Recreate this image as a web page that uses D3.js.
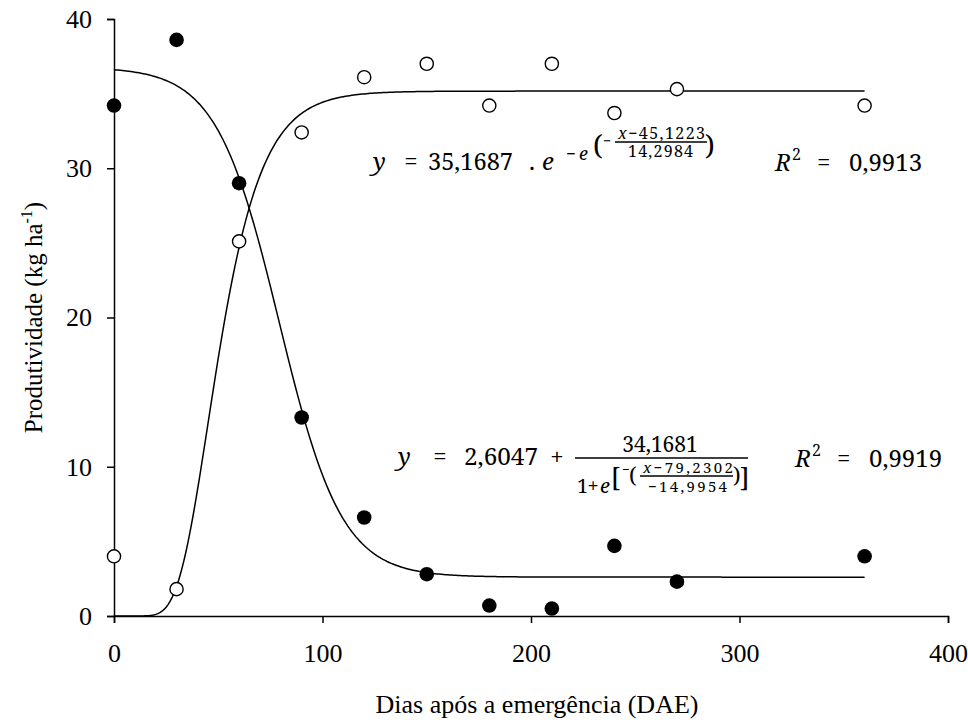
<!DOCTYPE html>
<html>
<head>
<meta charset="utf-8">
<script src="https://cdn.jsdelivr.net/npm/d3@7"></script>
<style>
  body { margin: 0; background: #fff; }
  svg { display: block; }
  .ts { font-family: "Liberation Serif"; fill: #000; }
  .mf { font-family: "Noto Serif"; fill: #000; }
  .it { font-style: italic; }
</style>
</head>
<body>
<svg id="chart" width="968" height="724"></svg>
<script>
// ---- data ----
const days = [0, 30, 60, 90, 120, 150, 180, 210, 240, 270, 360];
const filledValues = [34.2, 38.6, 29.0, 13.3, 6.6, 2.8, 0.7, 0.5, 4.7, 2.3, 4.0];
const openValues   = [4.0, 1.8, 25.1, 32.4, 36.1, 37.0, 34.2, 37.0, 33.7, 35.3, 34.2];
const xTicks = [0, 100, 200, 300, 400];
const yTicks = [0, 10, 20, 30, 40];
// fitted model coefficients printed on the chart
const gompertzCoef = [35.1687, 45.1223, 14.2984];          // a, x0, b
const logisticCoef = [2.6047, 34.1681, 79.2302, -14.9954]; // y0, a, x0, b
const curveX = d3.range(0, 360.5, 1);

const svg = d3.select("#chart");
const x = d3.scaleLinear().domain([0, 400]).range([114, 948]);
const y = d3.scaleLinear().domain([0, 40]).range([616, 19]);

// axes
const xAxis = svg.append("g").attr("transform", `translate(0,${y(0)})`)
  .call(d3.axisBottom(x).tickValues(xTicks).tickSize(7).tickPadding(21).tickFormat(d3.format("d")));
const yAxis = svg.append("g").attr("transform", `translate(${x(0)},0)`)
  .call(d3.axisLeft(y).tickValues(yTicks).tickSize(7).tickPadding(15).tickFormat(d3.format("d")));
[xAxis, yAxis].forEach(g => {
  g.attr("font-family", null).attr("font-size", null);
  g.select(".domain").attr("stroke", "#000").attr("stroke-width", 1.5);
  g.selectAll(".tick line").attr("stroke", "#000").attr("stroke-width", 1.5);
  g.selectAll(".tick text").attr("class", "ts").attr("font-size", 26);
});

// axis titles
svg.append("text").attr("class", "ts").attr("x", 537).attr("y", 713).attr("text-anchor", "middle")
  .attr("font-size", 26).text("Dias após a emergência (DAE)");
const yt = svg.append("text").attr("class", "ts").attr("transform", `translate(42,${y(20)}) rotate(-90)`)
  .attr("text-anchor", "middle").attr("font-size", 25);
yt.append("tspan").text("Produtividade (kg ha");
yt.append("tspan").attr("dy", -10).attr("font-size", 16).text("-1");
yt.append("tspan").attr("dy", 10).text(")");

// curves
const line = d3.line().x(d => x(d[0])).y(d => y(d[1]));
const gomp = curveX.map(v => [v, gompertzCoef[0] * Math.exp(-Math.exp(-(v - gompertzCoef[1]) / gompertzCoef[2]))]);
const logi = curveX.map(v => [v, logisticCoef[0] + logisticCoef[1] / (1 + Math.exp(-((v - logisticCoef[2]) / logisticCoef[3])))]);
[gomp, logi].forEach(data => svg.append("path").datum(data).attr("d", line)
  .attr("fill", "none").attr("stroke", "#000").attr("stroke-width", 1.5));

// points
svg.selectAll("circle.filled").data(days).join("circle").attr("class", "filled")
  .attr("cx", d => x(d)).attr("cy", (d, i) => y(filledValues[i])).attr("r", 7.3).attr("fill", "#000");
svg.selectAll("circle.open").data(days).join("circle").attr("class", "open")
  .attr("cx", d => x(d)).attr("cy", (d, i) => y(openValues[i])).attr("r", 6.6)
  .attr("fill", "#fff").attr("stroke", "#000").attr("stroke-width", 1.4);

// ---- equations ----
function t(xp, yp, str, size, opts = {}) {
  const el = svg.append("text").attr("x", xp).attr("y", yp)
    .attr("class", "mf" + (opts.italic ? " it" : "")).attr("font-size", size)
    .attr("text-anchor", opts.anchor || "start");
  if (opts.len) el.attr("textLength", opts.len).attr("lengthAdjust", "spacingAndGlyphs");
  el.text(str);
  return el;
}
function frac(x1, yp, parts, size, len) {
  const el = svg.append("text").attr("class", "mf").attr("x", x1).attr("y", yp)
    .attr("font-size", size).attr("textLength", len).attr("lengthAdjust", "spacing");
  parts.forEach(p => { const s = el.append("tspan").text(p[0]); if (p[1]) s.attr("class", "it"); });
  return el;
}
function hbar(x1, x2, yp, w) {
  svg.append("line").attr("x1", x1).attr("x2", x2).attr("y1", yp).attr("y2", yp)
    .attr("stroke", "#000").attr("stroke-width", w || 1.5);
}

// equation 1 : Gompertz
t(373, 170, "y", 24, {italic: true});
t(411, 170, "=", 24, {anchor: "middle"});
t(428, 170, "35,1687", 24, {len: 85});
t(529, 170, ".", 24);
t(542, 170, "e", 24, {italic: true});
t(566, 160, "−", 17);
t(579, 160, "e", 18, {italic: true});
t(593, 155, "(", 28);
t(603, 146, "−", 14);
hbar(615, 707, 142, 1.6);
frac(618, 139, [["x", true], ["−45,1223"]], 16, 87);
frac(628, 157, [["14,2984"]], 16, 65);
t(705, 155, ")", 28);

const r1 = t(775, 171, "", 24);
r1.append("tspan").attr("class", "it").text("R");
r1.append("tspan").attr("x", 792).attr("dy", -11).attr("font-size", 16).text("2");
r1.append("tspan").attr("x", 817).attr("dy", 11).text("=");
r1.append("tspan").attr("x", 849).text("0,9913");

// equation 2 : logistic
t(398, 465, "y", 24, {italic: true});
t(440, 465, "=", 24, {anchor: "middle"});
t(464, 465, "2,6047", 24, {len: 74});
t(557, 465, "+", 24, {anchor: "middle"});
hbar(575, 748, 458, 1.6);
t(660, 452, "34,1681", 21, {anchor: "middle"});
t(577, 493, "1", 20);
t(593, 493, "+", 20, {anchor: "middle"});
t(600, 493, "e", 20, {italic: true});
t(611, 486, "[", 26);
t(622, 474, "−", 13);
t(629, 483, "(", 22);
hbar(640, 733, 476, 1.4);
frac(643, 473, [["x", true], ["−79,2302"]], 15, 90);
frac(648, 492, [["−14,9954"]], 15, 79);
t(733, 483, ")", 22);
t(740, 486, "]", 26);

const r2 = t(795, 467, "", 24);
r2.append("tspan").attr("class", "it").text("R");
r2.append("tspan").attr("x", 812).attr("dy", -11).attr("font-size", 16).text("2");
r2.append("tspan").attr("x", 837).attr("dy", 11).text("=");
r2.append("tspan").attr("x", 869).text("0,9919");
</script>
</body>
</html>
